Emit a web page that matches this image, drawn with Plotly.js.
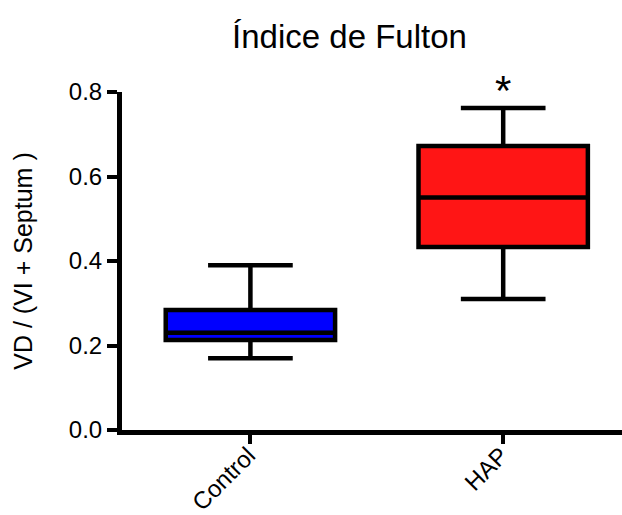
<!DOCTYPE html>
<html>
<head>
<meta charset="utf-8">
<script src="https://cdn.plot.ly/plotly-3.0.1.min.js"></script>
<style>html,body{margin:0;padding:0;background:#fff;}#chart{width:622px;height:515px;}</style>
</head>
<body>
<div id="chart"></div>
<script>
const categories = ["Control", "HAP"];
const lowerWhisker = [0.17, 0.31];
const q1Values = [0.213, 0.433];
const medianValues = [0.23, 0.55];
const q3Values = [0.284, 0.672];
const upperWhisker = [0.39, 0.762];
const fillColors = ["#0000FF", "#FF1515"];
const significance = ["", "*"];

const traces = categories.map((c, i) => ({
  type: "box",
  x: [c],
  q1: [q1Values[i]],
  median: [medianValues[i]],
  q3: [q3Values[i]],
  lowerfence: [lowerWhisker[i]],
  upperfence: [upperWhisker[i]],
  fillcolor: fillColors[i],
  line: {color: "#000", width: 4.5},
  whiskerwidth: 0.5,
  width: 0.67,
  boxpoints: false,
  showlegend: false,
  hoverinfo: "skip"
}));

const annotations = categories.map((c, i) => ({
  x: c, y: 0.8, xref: "x", yref: "y",
  text: significance[i], showarrow: false,
  yanchor: "middle", yshift: 2,
  font: {family: "Liberation Sans, Arial", size: 42, color: "#000"}
})).filter(a => a.text);

const layout = {
  width: 622, height: 515,
  margin: {l: 122, r: 0, t: 92, b: 85},
  paper_bgcolor: "#fff", plot_bgcolor: "#fff",
  boxmode: "overlay",
  font: {family: "Liberation Sans, Arial", color: "#000"},
  title: {
    text: "Índice de Fulton",
    font: {size: 33, color: "#000"},
    xref: "paper", x: 0.455, xanchor: "center",
    yref: "container", y: 0.93, yanchor: "middle"
  },
  xaxis: {
    type: "category",
    range: [-0.508, 1.47],
    showline: true, linewidth: 5, linecolor: "#000",
    ticks: "outside", ticklen: 9, tickwidth: 4, tickcolor: "#000",
    tickangle: -45,
    ticklabelstandoff: -12,
    ticklabelshift: -2,
    tickfont: {size: 24},
    showgrid: false, zeroline: false
  },
  yaxis: {
    range: [0, 0.8],
    tickvals: [0, 0.2, 0.4, 0.6, 0.8],
    ticktext: ["0.0", "0.2", "0.4", "0.6", "0.8"],
    showline: true, linewidth: 5, linecolor: "#000",
    ticks: "outside", ticklen: 10, tickwidth: 4, tickcolor: "#000",
    tickfont: {size: 24},
    showgrid: false, zeroline: false,
    title: {text: "VD / (VI + Septum )", font: {size: 25}, standoff: 31}
  },
  annotations: annotations
};

Plotly.newPlot("chart", traces, layout, {displayModeBar: false, staticPlot: true});
</script>
</body>
</html>
